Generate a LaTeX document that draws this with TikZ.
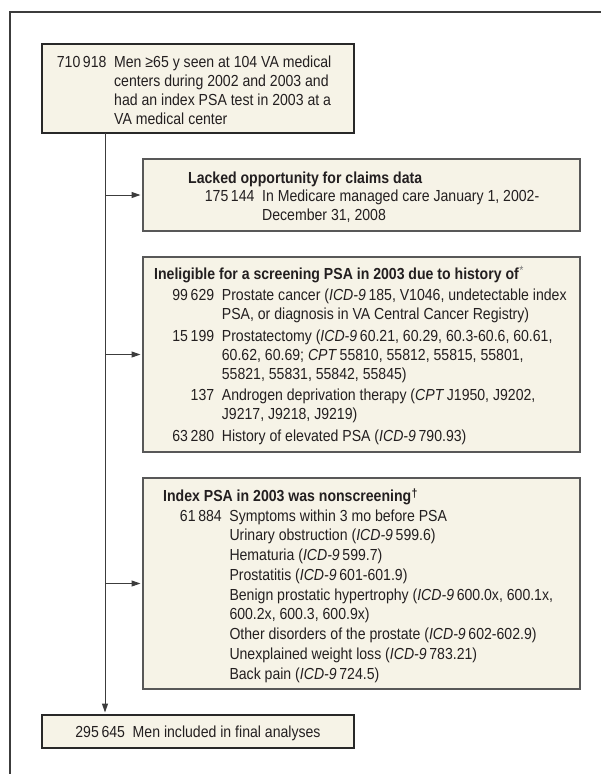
\documentclass[tikz,border=0pt]{standalone}
\usepackage{fontspec}
\setmainfont{Liberation Sans}[FakeStretch=0.88]
\usetikzlibrary{arrows.meta}
\definecolor{boxfill}{RGB}{246,243,231}
\definecolor{boxline}{RGB}{88,88,88}
\definecolor{boxlinedark}{RGB}{40,40,40}
\definecolor{linecol}{RGB}{60,60,60}
\definecolor{framecol}{RGB}{60,60,60}
\definecolor{txt}{RGB}{35,31,32}
\definecolor{astcol}{RGB}{120,120,120}
\newcommand\nm[1]{\llap{#1\hspace{7.7pt}}}
\newcommand\icd{\textit{ICD-9}\,}
\newcommand\cpt{\textit{CPT}\,}
\tikzset{
  flowbox/.style={draw=boxline, fill=boxfill, line width=1.3pt, anchor=north west, inner sep=0pt, outer sep=0pt},
  txtnode/.style={anchor=base west, inner sep=0pt, text=txt, font=\fontsize{16}{19}\selectfont},
  conn/.style={draw=linecol, line width=1pt, -{Triangle[length=9pt,width=6pt]}, shorten >=2.5pt},
}
\begin{document}
\begin{tikzpicture}[x=1pt,y=-1pt]
\useasboundingbox (0,0) rectangle (601,774);
% open frame
\draw[framecol, line width=1.8pt] (10,774) -- (10,12.3) -- (601,12.3);

% boxes
\node[flowbox, draw=boxlinedark, minimum width=312pt, minimum height=89pt] (box1) at (42,44) {};
\node[flowbox, minimum width=437pt, minimum height=72pt] (box2) at (143,159) {};
\node[flowbox, minimum width=437pt, minimum height=195pt] (box3) at (143,257) {};
\node[flowbox, minimum width=437pt, minimum height=211pt] (box4) at (143,478) {};
\node[flowbox, draw=boxlinedark, anchor=center, minimum width=312pt, minimum height=33pt,
      text=txt, font=\fontsize{16}{19}\selectfont, text height=12pt, text depth=0pt] (final) at (198,731.5)
  {295\,645\hspace{7.7pt}Men included in final analyses};

% texts
\node[txtnode] (t1) at (114,67) {\begin{tabular}[t]{@{}l@{}}
\nm{710\,918}Men ≥65 y seen at 104 VA medical\\
centers during 2002 and 2003 and\\
had an index PSA test in 2003 at a\\
VA medical center
\end{tabular}};

\node[txtnode] (h2) at (188,183) {\textbf{Lacked opportunity for claims data}};
\node[txtnode] (t2) at (262,201.7) {\begin{tabular}[t]{@{}l@{}}
\nm{175\,144}In Medicare managed care January 1, 2002-\\
December 31, 2008
\end{tabular}};

\node[txtnode] (h3) at (154,279) {\textbf{Ineligible for a screening PSA in 2003 due to history of}\kern0.5pt{\color{astcol}\raisebox{4.5pt}{\fontsize{12}{12}\selectfont *}}};
\node[txtnode] (t3) at (221.7,300.5) {\begin{tabular}[t]{@{}l@{}}
\nm{99\,629}Prostate cancer (\icd 185, V1046, undetectable index\\
PSA, or diagnosis in VA Central Cancer Registry)\\[2.5pt]
\nm{15\,199}Prostatectomy (\icd 60.21, 60.29, 60.3-60.6, 60.61,\\
60.62, 60.69; \cpt 55810, 55812, 55815, 55801,\\
55821, 55831, 55842, 55845)\\[2.5pt]
\nm{137}Androgen deprivation therapy (\cpt J1950, J9202,\\
J9217, J9218, J9219)\\[2.5pt]
\nm{63\,280}History of elevated PSA (\icd 790.93)
\end{tabular}};

\node[txtnode] (h4) at (163,501.5) {\textbf{Index PSA in 2003 was nonscreening\kern0.5pt\raisebox{4pt}{\fontsize{12}{12}\selectfont †}}};
\node[txtnode, font=\fontsize{16}{19.75}\selectfont] (t4) at (229.3,521) {\begin{tabular}[t]{@{}l@{}}
\nm{61\,884}Symptoms within 3 mo before PSA\\
Urinary obstruction (\icd 599.6)\\
Hematuria (\icd 599.7)\\
Prostatitis (\icd 601-601.9)\\
Benign prostatic hypertrophy (\icd 600.0x, 600.1x,\\
600.2x, 600.3, 600.9x)\\
Other disorders of the prostate (\icd 602-602.9)\\
Unexplained weight loss (\icd 783.21)\\
Back pain (\icd 724.5)
\end{tabular}};

% connectors
\coordinate (trunk) at (105,0);
\draw[conn] (box1.south -| trunk) -- (final.north -| trunk);
\draw[conn] (box2.west -| trunk) -- (box2.west);
\draw[conn] (box3.west -| trunk) -- (box3.west);
\draw[conn] (box4.west -| trunk) -- (box4.west);
\end{tikzpicture}
\end{document}
